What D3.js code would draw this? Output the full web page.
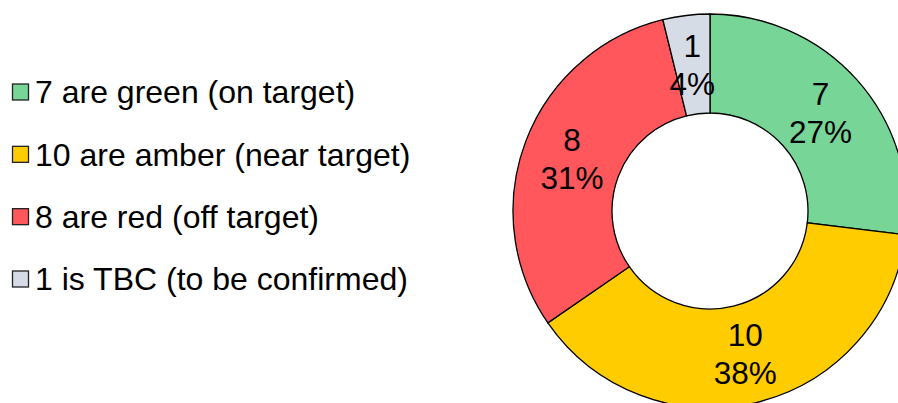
<!DOCTYPE html>
<html>
<head>
<meta charset="utf-8">
<script src="https://cdn.jsdelivr.net/npm/d3@7"></script>
<style>
  body { margin: 0; background: #fff; }
  svg { display: block; font-family: "Liberation Sans", Arial, sans-serif; }
</style>
</head>
<body>
<svg id="chart" width="898" height="403"></svg>
<script>
// RAG status counts
const categories = ["green", "amber", "red", "TBC"];
const counts = [7, 10, 8, 1];
const legendLabels = [
  "7 are green (on target)",
  "10 are amber (near target)",
  "8 are red (off target)",
  "1 is TBC (to be confirmed)"
];
const colors = ["#77d597", "#ffcc00", "#ff575b", "#d6dce5"];

const svg = d3.select("#chart");

const cx = 710, cy = 211;
const outerR = 197, innerR = 98;

const total = d3.sum(counts);
const color = d3.scaleOrdinal().domain(categories).range(colors);

const pie = d3.pie().sort(null).value(d => d.value);
const arcs = pie(categories.map((c, i) => ({ key: c, value: counts[i] })));

const arc = d3.arc().innerRadius(innerR).outerRadius(outerR);
const labelArc = d3.arc().innerRadius((innerR + outerR) / 2).outerRadius((innerR + outerR) / 2);

const g = svg.append("g").attr("transform", "translate(" + cx + "," + cy + ")");

g.selectAll("path")
  .data(arcs)
  .enter().append("path")
  .attr("d", arc)
  .style("fill", d => color(d.data.key))
  .style("stroke", "#000")
  .style("stroke-width", 1.3);

const labels = g.selectAll("text.lbl")
  .data(arcs)
  .enter().append("text")
  .attr("class", "lbl")
  .attr("transform", d => "translate(" + labelArc.centroid(d) + ")")
  .attr("text-anchor", "middle")
  .style("font-size", "31.5px")
  .style("fill", "#000");

labels.append("tspan")
  .attr("x", 0)
  .attr("y", -19)
  .attr("dy", "0.35em")
  .text(d => d.data.value);

labels.append("tspan")
  .attr("x", 0)
  .attr("y", 19)
  .attr("dy", "0.35em")
  .text(d => Math.round(d.data.value / total * 100) + "%");

// legend
const legendY = d3.scalePoint().domain(categories).range([92, 279]);

const item = svg.append("g").selectAll("g")
  .data(categories)
  .enter().append("g")
  .attr("transform", d => "translate(0," + legendY(d) + ")");

item.append("rect")
  .attr("x", 12.5)
  .attr("y", -8)
  .attr("width", 16)
  .attr("height", 16)
  .style("fill", d => color(d))
  .style("stroke", "#222")
  .style("stroke-width", 1.3);

item.append("text")
  .attr("x", 35)
  .attr("dy", "0.35em")
  .style("font-size", "32px")
  .style("fill", "#000")
  .text((d, i) => legendLabels[i]);
</script>
</body>
</html>
